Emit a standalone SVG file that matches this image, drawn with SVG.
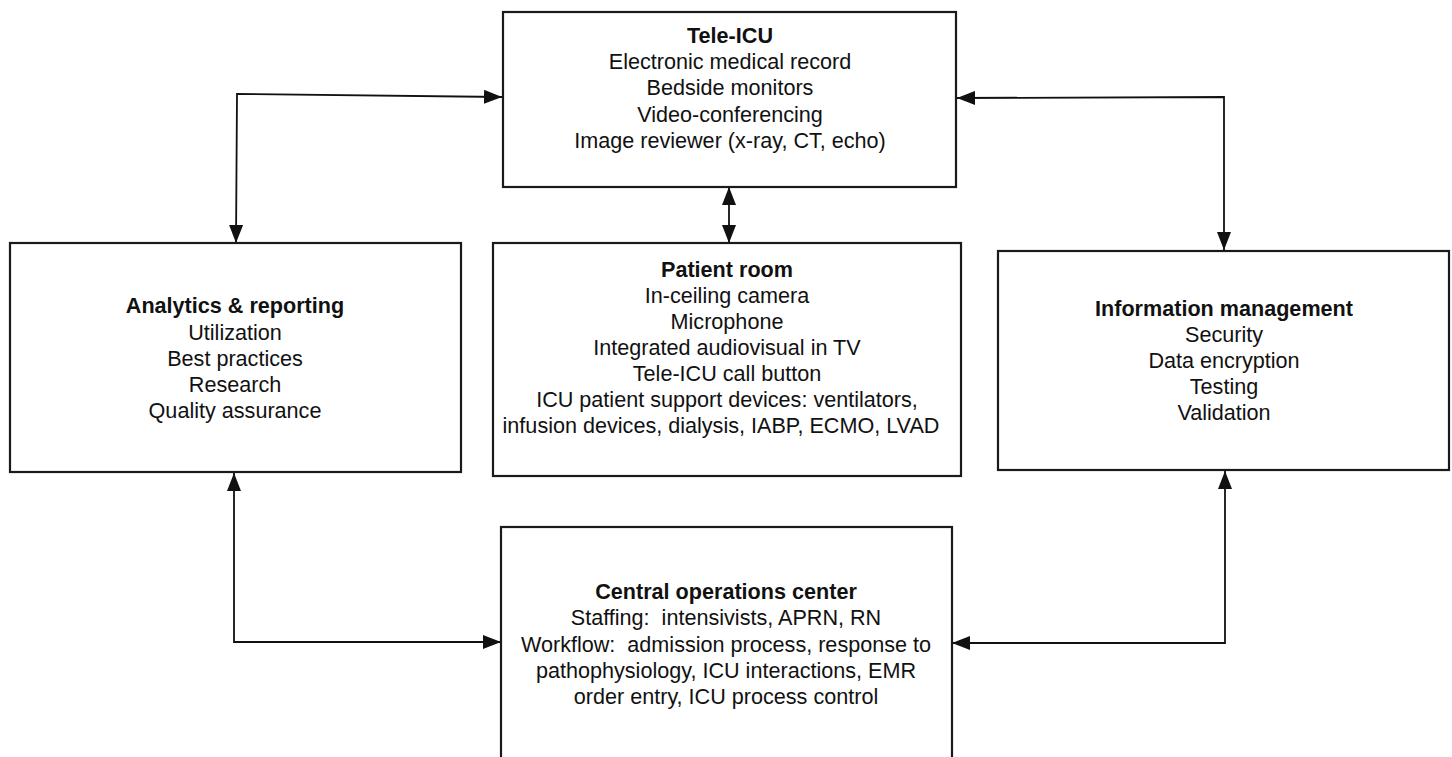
<svg xmlns="http://www.w3.org/2000/svg" width="1452" height="757" viewBox="0 0 1452 757">
<style>
.box{fill:#fff;stroke:#1a1a1a;stroke-width:2.2}
.t{font-family:"Liberation Sans",Arial,Helvetica,sans-serif;font-size:21.6px;fill:#111;text-anchor:middle;white-space:pre}
.b{font-weight:bold}
.c{fill:none;stroke:#111;stroke-width:1.8}
</style>
<defs>
<marker id="ah" markerUnits="userSpaceOnUse" markerWidth="18" markerHeight="14" refX="18" refY="7" orient="auto-start-reverse" viewBox="0 0 18 14">
<path d="M0,0 L18,7 L0,14 z" fill="#111"/>
</marker>
</defs>
<rect width="1452" height="757" fill="#fff"/>
<g id="connectors">
<polyline class="c" points="502,97 237,94 236,243" marker-start="url(#ah)" marker-end="url(#ah)"/>
<polyline class="c" points="957,98 1224,97 1224,250" marker-start="url(#ah)" marker-end="url(#ah)"/>
<line class="c" x1="729" y1="187" x2="729" y2="243" marker-start="url(#ah)" marker-end="url(#ah)"/>
<polyline class="c" points="234,473 234,642 501,642" marker-start="url(#ah)" marker-end="url(#ah)"/>
<polyline class="c" points="1225,471 1225,643 952,643" marker-start="url(#ah)" marker-end="url(#ah)"/>
</g>
<g id="tele-icu">
<rect class="box" x="503" y="12" width="453" height="175"/>
<text class="t b" x="730" y="43">Tele-ICU</text>
<text class="t" x="730" y="69">Electronic medical record</text>
<text class="t" x="730" y="95">Bedside monitors</text>
<text class="t" x="730" y="122">Video-conferencing</text>
<text class="t" x="730" y="148">Image reviewer (x-ray, CT, echo)</text>
</g>
<g id="analytics">
<rect class="box" x="10" y="243" width="451" height="229"/>
<text class="t b" x="235" y="313">Analytics &amp; reporting</text>
<text class="t" x="235" y="340">Utilization</text>
<text class="t" x="235" y="366">Best practices</text>
<text class="t" x="235" y="392">Research</text>
<text class="t" x="235" y="418">Quality assurance</text>
</g>
<g id="patient-room">
<rect class="box" x="493" y="243" width="468" height="233"/>
<text class="t b" x="727" y="277">Patient room</text>
<text class="t" x="727" y="303">In-ceiling camera</text>
<text class="t" x="727" y="329">Microphone</text>
<text class="t" x="727" y="355">Integrated audiovisual in TV</text>
<text class="t" x="727" y="381">Tele-ICU call button</text>
<text class="t" x="727" y="407">ICU patient support devices: ventilators,</text>
<text class="t" x="721" y="433">infusion devices, dialysis, IABP, ECMO, LVAD</text>
</g>
<g id="information-management">
<rect class="box" x="998" y="251" width="451" height="219"/>
<text class="t b" x="1224" y="316">Information management</text>
<text class="t" x="1224" y="342">Security</text>
<text class="t" x="1224" y="368">Data encryption</text>
<text class="t" x="1224" y="394">Testing</text>
<text class="t" x="1224" y="420">Validation</text>
</g>
<g id="central-operations">
<rect class="box" x="501" y="527" width="451" height="250"/>
<text class="t b" x="726" y="599">Central operations center</text>
<text class="t" x="726" y="625">Staffing:  intensivists, APRN, RN</text>
<text class="t" x="726" y="652">Workflow:  admission process, response to</text>
<text class="t" x="726" y="678">pathophysiology, ICU interactions, EMR</text>
<text class="t" x="726" y="704">order entry, ICU process control</text>
</g>
</svg>
